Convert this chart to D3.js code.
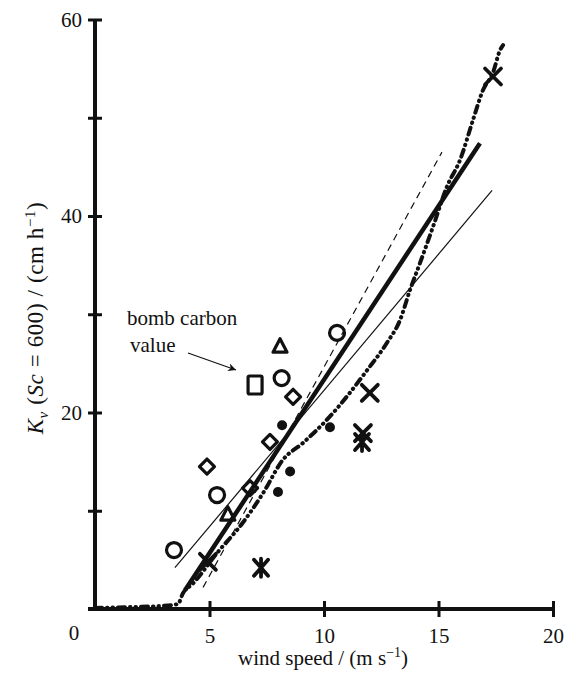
<!DOCTYPE html>
<meta charset="utf-8">
<script src="https://d3js.org/d3.v7.min.js"></script>
<style>
body { margin: 0; background: #fff; }
text { font-family: "Liberation Serif", "DejaVu Serif", serif; fill: #111; }
.axis path { stroke: #111; stroke-width: 4px; }
.axis line { stroke: #111; stroke-width: 3px; }
.axis text { font-size: 21px; }
</style>
<body></body>
<script>
// wind speed (m/s), Kv (cm/h)
var circles   = [[3.45, 6.0], [5.33, 11.6], [8.15, 23.5], [10.57, 28.1]];
var diamonds  = [[4.89, 14.5], [6.77, 12.3], [7.64, 17.0], [8.65, 21.6]];
var triangles = [[5.8, 9.6], [8.08, 26.7]];
var squares   = [[6.99, 22.8]];
var dots      = [[7.99, 11.9], [8.17, 18.7], [8.52, 14.0], [10.26, 18.5]];
var crosses   = [[4.93, 4.8], [11.7, 17.9], [12.0, 22.0], [17.38, 54.2]];
var stars     = [[7.25, 4.2], [11.66, 17.0]];

// fitted relationships
var thickLine = [[3.93, 1.9], [16.81, 47.4]];
var thinLine  = [[3.49, 4.2], [17.34, 42.6]];
var dashLine  = [[4.72, 2.2], [15.15, 46.5]];
var curve = [[0, 0.1], [1.53, 0.2], [2.84, 0.3], [3.62, 0.5], [3.84, 1.6], [4.28, 2.6],
  [5.33, 5.7], [6.46, 8.8], [7.34, 11.8], [8.21, 15.2], [9.08, 16.9], [10.26, 19.6],
  [11.88, 24.3], [12.75, 27.1], [13.32, 29.4], [13.76, 32.5], [14.19, 35.2],
  [14.76, 38.9], [15.37, 43.0], [15.94, 45.7], [16.51, 49.8], [16.94, 52.8],
  [17.38, 54.6], [17.69, 56.9], [17.82, 57.4]];

var xTicks = [5, 10, 15, 20];
var yTicks = [10, 20, 30, 40, 50, 60];
var yLabelled = [20, 40, 60];

var svg = d3.select("body").append("svg")
    .attr("width", 567)
    .attr("height", 676);

var x = d3.scaleLinear().domain([0, 20]).range([95, 553]);
var y = d3.scaleLinear().domain([0, 60]).range([609, 19.5]);

// y axis
var yAxis = d3.axisLeft(y)
  .tickValues(yTicks)
  .tickSize(7)
  .tickPadding(6)
  .tickFormat(function(d) { return yLabelled.indexOf(d) >= 0 ? d : ""; });
var gy = svg.append("g")
    .attr("class", "axis")
    .attr("transform", "translate(" + x(0) + ",0)")
    .call(yAxis);
gy.select(".domain").attr("d", "M0," + y(0) + "V" + y(60));
gy.selectAll(".tick line").attr("x1", 7).attr("x2", -7);

// x axis
var xAxis = d3.axisBottom(x)
  .tickValues(xTicks)
  .tickSize(8)
  .tickPadding(11);
var gx = svg.append("g")
    .attr("class", "axis")
    .attr("transform", "translate(0," + y(0) + ")")
    .call(xAxis);
gx.select(".domain").attr("d", "M" + (x(0) - 7) + ",0H" + x(20));
gx.selectAll(".tick line").attr("y1", -8).attr("y2", 8);

svg.append("text")
    .attr("x", 74).attr("y", 640)
    .attr("text-anchor", "middle")
    .style("font-size", "21px")
    .text("0");

// axis titles
svg.append("text")
    .attr("x", 323).attr("y", 665)
    .attr("text-anchor", "middle")
    .style("font-size", "21px")
    .html('wind speed / (m s<tspan dy="-8" font-size="14">\u22121</tspan><tspan dy="8">)</tspan>');

svg.append("text")
    .attr("transform", "translate(43,318) rotate(-90)")
    .attr("text-anchor", "middle")
    .style("font-size", "23px")
    .style("letter-spacing", "0.6px")
    .html('<tspan font-style="italic">K</tspan><tspan dy="5" font-size="15" font-style="italic">v</tspan>'
      + '<tspan dy="-5"> (</tspan><tspan font-style="italic">Sc</tspan><tspan> = 600) / (cm h</tspan>'
      + '<tspan dy="-8" font-size="15">\u22121</tspan><tspan dy="8">)</tspan>');

// lines
var line = d3.line()
  .x(function(d) { return x(d[0]); })
  .y(function(d) { return y(d[1]); });

svg.append("path").datum(thinLine)
    .attr("d", line).attr("fill", "none")
    .attr("stroke", "#111").attr("stroke-width", 1.2);

svg.append("path").datum(dashLine)
    .attr("d", line).attr("fill", "none")
    .attr("stroke", "#111").attr("stroke-width", 1.2)
    .attr("stroke-dasharray", "7 5");

svg.append("path").datum(thickLine)
    .attr("d", line).attr("fill", "none")
    .attr("stroke", "#111").attr("stroke-width", 4.5);

svg.append("path").datum(curve)
    .attr("d", line.curve(d3.curveMonotoneX)).attr("fill", "none")
    .attr("stroke", "#111").attr("stroke-width", 4)
    .attr("stroke-linecap", "round")
    .attr("stroke-dasharray", "7 5 0.5 5 0.5 5");

// markers
var mk = svg.append("g")
    .attr("fill", "none")
    .attr("stroke", "#111")
    .attr("stroke-width", 3.2)
    .attr("stroke-linecap", "round")
    .attr("stroke-linejoin", "round");

mk.selectAll(".circ").data(circles).enter().append("circle")
    .attr("cx", function(d) { return x(d[0]); })
    .attr("cy", function(d) { return y(d[1]); })
    .attr("r", 7.5);

mk.selectAll(".diam").data(diamonds).enter().append("path")
    .attr("transform", function(d) { return "translate(" + x(d[0]) + "," + y(d[1]) + ")"; })
    .attr("d", "M0,-7.5L7.5,0L0,7.5L-7.5,0Z");

mk.selectAll(".tri").data(triangles).enter().append("path")
    .attr("transform", function(d) { return "translate(" + x(d[0]) + "," + y(d[1]) + ")"; })
    .attr("d", "M0,-8L7,5.5L-7,5.5Z");

mk.selectAll(".sq").data(squares).enter().append("rect")
    .attr("x", function(d) { return x(d[0]) - 7; })
    .attr("y", function(d) { return y(d[1]) - 9; })
    .attr("width", 14).attr("height", 18).attr("rx", 1.5);

mk.selectAll(".dot").data(dots).enter().append("circle")
    .attr("cx", function(d) { return x(d[0]); })
    .attr("cy", function(d) { return y(d[1]); })
    .attr("r", 5).attr("fill", "#111").attr("stroke", "none");

mk.selectAll(".cross").data(crosses).enter().append("path")
    .attr("transform", function(d) { return "translate(" + x(d[0]) + "," + y(d[1]) + ")"; })
    .attr("stroke-width", 3.8)
    .attr("d", "M-8,-8L8,8M8,-8L-8,8");

mk.selectAll(".star").data(stars).enter().append("path")
    .attr("transform", function(d) { return "translate(" + x(d[0]) + "," + y(d[1]) + ")"; })
    .attr("stroke-width", 3.8)
    .attr("d", "M-7,-8L7,8M7,-8L-7,8M0,-9L0,9");

// annotation
svg.append("text")
    .attr("x", 127).attr("y", 325)
    .style("font-size", "21px")
    .text("bomb carbon");
svg.append("text")
    .attr("x", 130).attr("y", 352)
    .style("font-size", "21px")
    .text("value");

svg.append("defs").append("marker")
    .attr("id", "arr")
    .attr("viewBox", "0 0 10 10")
    .attr("refX", 10).attr("refY", 5)
    .attr("markerWidth", 11).attr("markerHeight", 8)
    .attr("markerUnits", "userSpaceOnUse")
    .attr("orient", "auto")
  .append("path")
    .attr("d", "M0,0L10,5L0,10L3,5Z")
    .attr("fill", "#111");

svg.append("line")
    .attr("x1", 188).attr("y1", 353)
    .attr("x2", 236).attr("y2", 370)
    .attr("stroke", "#111").attr("stroke-width", 1.2)
    .attr("marker-end", "url(#arr)");
</script>
